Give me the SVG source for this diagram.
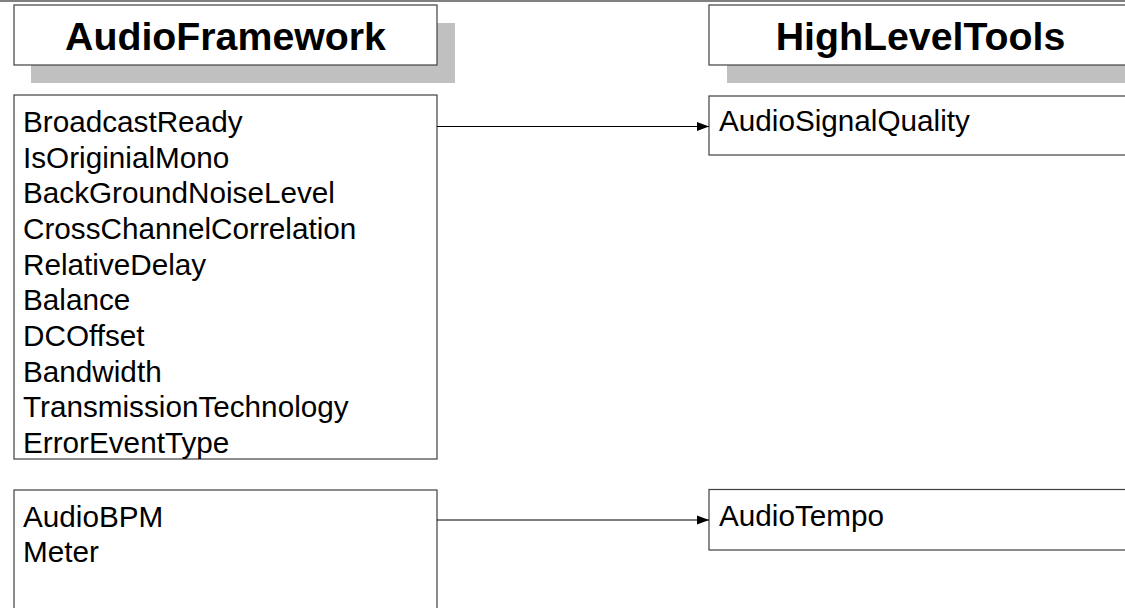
<svg xmlns="http://www.w3.org/2000/svg" width="1125" height="608" viewBox="0 0 1125 608">
  <defs>
    <style>
      .box { fill: #ffffff; stroke: #404040; stroke-width: 1.2; }
      .shadow { fill: #c0c0c0; stroke: none; }
      .title { font-family: "Liberation Sans", Arial, sans-serif; font-weight: bold; font-size: 39.3px; fill: #000000; text-anchor: middle; }
      .item { font-family: "Liberation Sans", Arial, sans-serif; font-size: 29.7px; fill: #000000; }
      .link { stroke: #000000; stroke-width: 1; fill: none; }
    </style>
    <marker id="arrow" markerWidth="12" markerHeight="10" refX="12" refY="5" orient="auto" markerUnits="userSpaceOnUse">
      <path d="M0,0.5 L12,5 L0,9.5 Z" fill="#000000"/>
    </marker>
  </defs>

  <rect width="1125" height="608" fill="#ffffff"/>
  <!-- page rule along the top edge -->
  <line x1="0" y1="1" x2="1125" y2="1" stroke="#808080" stroke-width="2"/>

  <!-- column headers -->
  <g id="header-audioframework">
    <rect class="shadow" x="31" y="23" width="424" height="60"/>
    <rect class="box" x="14" y="5" width="423" height="60"/>
    <text class="title" x="225.5" y="49.5">AudioFramework</text>
  </g>
  <g id="header-highleveltools">
    <rect class="shadow" x="727" y="23" width="424" height="60"/>
    <rect class="box" x="709" y="5" width="423" height="60"/>
    <text class="title" x="920.5" y="49.5">HighLevelTools</text>
  </g>

  <!-- AudioFramework modules -->
  <g id="node-signal-descriptors">
    <rect class="box" x="14" y="95" width="423" height="364"/>
    <text class="item" x="23" y="132">BroadcastReady</text>
    <text class="item" x="23" y="167.7">IsOriginialMono</text>
    <text class="item" x="23" y="203.3">BackGroundNoiseLevel</text>
    <text class="item" x="23" y="239">CrossChannelCorrelation</text>
    <text class="item" x="23" y="274.7">RelativeDelay</text>
    <text class="item" x="23" y="310.3">Balance</text>
    <text class="item" x="23" y="346">DCOffset</text>
    <text class="item" x="23" y="381.7">Bandwidth</text>
    <text class="item" x="23" y="417.3">TransmissionTechnology</text>
    <text class="item" x="23" y="453">ErrorEventType</text>
  </g>
  <g id="node-tempo-descriptors">
    <rect class="box" x="14" y="490" width="423" height="140"/>
    <text class="item" x="23" y="526.5">AudioBPM</text>
    <text class="item" x="23" y="562.2">Meter</text>
  </g>

  <!-- HighLevelTools modules -->
  <g id="node-audiosignalquality">
    <rect class="box" x="709" y="96" width="423" height="59"/>
    <text class="item" x="719" y="131">AudioSignalQuality</text>
  </g>
  <g id="node-audiotempo">
    <rect class="box" x="709" y="489.5" width="423" height="60.5"/>
    <text class="item" x="719" y="526">AudioTempo</text>
  </g>

  <!-- connectors -->
  <g id="connectors">
    <line class="link" x1="437" y1="126.5" x2="709" y2="126.5" marker-end="url(#arrow)"/>
    <line class="link" x1="437" y1="520" x2="709" y2="520" marker-end="url(#arrow)"/>
  </g>
</svg>
